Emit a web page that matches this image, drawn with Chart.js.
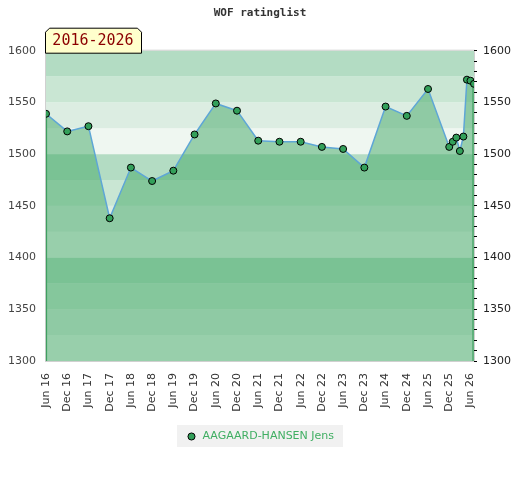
<!DOCTYPE html>
<html>
<head>
<meta charset="utf-8">
<script src="https://cdn.jsdelivr.net/npm/chart.js@4.4.1/dist/chart.umd.min.js"></script>
<style>
	html, body { margin: 0; padding: 0; background: #fff; }
	#wrap { width: 520px; height: 480px; }
</style>
</head>
<body>
<div id="wrap"><canvas id="mycanvas"></canvas></div>
<script>
// data
var chartTitle = "WOF ratinglist";
var periodLabel = "2016-2026";
var playerName = "AAGAARD-HANSEN Jens";

var ratingDates = ["2016-06", "2016-12", "2017-06", "2017-12", "2018-06", "2018-12",
	"2019-06", "2019-12", "2020-06", "2020-12", "2021-06", "2021-12", "2022-06",
	"2022-12", "2023-06", "2023-12", "2024-06", "2024-12", "2025-06", "2025-12",
	"2026-01", "2026-02", "2026-03", "2026-04", "2026-05", "2026-06", "2026-07"];
var ratings = [1539, 1522, 1527, 1438, 1487, 1474,
	1484, 1519, 1549, 1542, 1513, 1512, 1512,
	1507, 1505, 1487, 1546, 1537, 1563, 1507,
	1512, 1516, 1503, 1517, 1572, 1571, 1568];

var tickDates = ["2016-06", "2016-12", "2017-06", "2017-12", "2018-06", "2018-12",
	"2019-06", "2019-12", "2020-06", "2020-12", "2021-06", "2021-12", "2022-06",
	"2022-12", "2023-06", "2023-12", "2024-06", "2024-12", "2025-06", "2025-12", "2026-06"];
var tickLabels = ["Jun 16", "Dec 16", "Jun 17", "Dec 17", "Jun 18", "Dec 18",
	"Jun 19", "Dec 19", "Jun 20", "Dec 20", "Jun 21", "Dec 21", "Jun 22",
	"Dec 22", "Jun 23", "Dec 23", "Jun 24", "Dec 24", "Jun 25", "Dec 25", "Jun 26"];

var yMin = 1300, yMax = 1600;

// months since the first date
function monthIndex(d) {
	var p = d.split("-");
	return (parseInt(p[0], 10) - 2016) * 12 + (parseInt(p[1], 10) - 6);
}

var points = [];
for (var i in ratings) {
	points.push({ x: monthIndex(ratingDates[i]), y: ratings[i] });
}
var tickValues = tickDates.map(monthIndex);

var bandColors = ["#eff7f1", "#dcede2", "#c9e6d3", "#b3dcc3"];
var pointGreen = "#33a05a";

var decorPlugin = {
	id: "decor",
	beforeDraw: function(chart) {
		var ctx = chart.ctx, a = chart.chartArea, y = chart.scales.y;
		ctx.save();
		// background bands every 25 points
		for (var v = yMin, k = 0; v < yMax; v += 25, k++) {
			var top = y.getPixelForValue(v + 25), bot = y.getPixelForValue(v);
			ctx.fillStyle = bandColors[k % 4];
			ctx.fillRect(a.left, top, a.right - a.left, bot - top);
		}
		// grey frame
		ctx.strokeStyle = "#d0d0d0";
		ctx.lineWidth = 1;
		ctx.strokeRect(a.left - 0.5, a.top - 0.5, a.right - a.left + 1, a.bottom - a.top + 1);
		// legend background
		var hb = chart.legend && chart.legend.legendHitBoxes && chart.legend.legendHitBoxes[0];
		if (hb) {
			ctx.fillStyle = "#f1f1f1";
			ctx.fillRect(hb.left - 9, hb.top - 6, hb.width + 18, hb.height + 11);
		}
		ctx.restore();
	},
	beforeDatasetDraw: function(chart) {
		// vertical edges of the filled area
		var ctx = chart.ctx, a = chart.chartArea, meta = chart.getDatasetMeta(0);
		var first = meta.data[0], last = meta.data[meta.data.length - 1];
		ctx.save();
		ctx.strokeStyle = "#3f9f60";
		ctx.lineWidth = 1.2;
		ctx.beginPath();
		ctx.moveTo(first.x + 0.5, first.y);
		ctx.lineTo(first.x + 0.5, a.bottom);
		ctx.moveTo(Math.min(last.x, a.right - 1), last.y);
		ctx.lineTo(Math.min(last.x, a.right - 1), a.bottom);
		ctx.stroke();
		ctx.restore();
	},
	afterDraw: function(chart) {
		// period tag
		var ctx = chart.ctx, a = chart.chartArea;
		var l = a.left - 1, r = a.left + 95, t = a.top - 23, b = a.top + 2, c = 4;
		ctx.save();
		ctx.beginPath();
		ctx.moveTo(l + 0.5, b + 0.5);
		ctx.lineTo(l + 0.5, t + c + 0.5);
		ctx.lineTo(l + c + 0.5, t + 0.5);
		ctx.lineTo(r - c + 0.5, t + 0.5);
		ctx.lineTo(r + 0.5, t + c + 0.5);
		ctx.lineTo(r + 0.5, b + 0.5);
		ctx.closePath();
		ctx.fillStyle = "#ffffcc";
		ctx.fill();
		ctx.strokeStyle = "#000";
		ctx.lineWidth = 1;
		ctx.stroke();
		ctx.fillStyle = "#8b0000";
		ctx.font = "15px 'DejaVu Sans Mono'";
		ctx.textAlign = "center";
		ctx.textBaseline = "middle";
		ctx.fillText(periodLabel, (l + r) / 2, (t + b) / 2 + 1);
		ctx.restore();
	}
};

Chart.defaults.font.family = "'DejaVu Sans', sans-serif";
Chart.defaults.font.size = 11;

var ctx = document.getElementById("mycanvas");

var LineGraph = new Chart(ctx, {
	type: "line",
	data: {
		datasets: [{
			label: playerName,
			data: points,
			fill: "start",
			lineTension: 0,
			borderColor: "#5ea6d6",
			borderWidth: 1.5,
			backgroundColor: "rgba(66, 168, 102, 0.5)",
			pointRadius: 3.5,
			pointBorderWidth: 1,
			pointBackgroundColor: pointGreen,
			pointBorderColor: "#000"
		}]
	},
	options: {
		responsive: true,
		maintainAspectRatio: false,
		animation: false,
		layout: { padding: { left: 0, right: 0, top: 2, bottom: 28 } },
		plugins: {
			title: {
				display: true,
				text: chartTitle,
				color: "#333",
				font: { family: "'DejaVu Sans Mono', monospace", size: 11, weight: "bold" },
				padding: { top: 5, bottom: 30.5 }
			},
			legend: {
				position: "bottom",
				labels: {
					color: "#3fae62",
					font: { size: 11 },
					usePointStyle: true,
					boxWidth: 11,
					boxHeight: 5,
					padding: 10,
					generateLabels: function(chart) {
						var items = Chart.defaults.plugins.legend.labels.generateLabels(chart);
						items.forEach(function(it) {
							it.fillStyle = pointGreen;
							it.strokeStyle = "#000";
							it.lineWidth = 1;
							it.pointStyle = "circle";
						});
						return items;
					}
				}
			},
			tooltip: { enabled: false }
		},
		scales: {
			x: {
				type: "linear",
				min: tickValues[0],
				max: points[points.length - 1].x,
				afterBuildTicks: function(scale) {
					scale.ticks = tickValues.map(function(v) { return { value: v }; });
				},
				afterFit: function(scale) { scale.height = 60; },
				grid: { display: false, drawTicks: false },
				border: { display: false },
				ticks: {
					autoSkip: false,
					minRotation: 90,
					maxRotation: 90,
					color: "#333",
					padding: 12,
					callback: function(value) {
						var idx = tickValues.indexOf(value);
						return idx >= 0 ? tickLabels[idx] : "";
					}
				}
			},
			y: {
				position: "left",
				min: yMin,
				max: yMax,
				afterFit: function(scale) { scale.width = 46; },
				grid: { display: false, drawTicks: false },
				border: { display: false },
				ticks: { stepSize: 50, color: "#444", padding: 10, callback: function(v) { return String(v); } }
			},
			y2: {
				position: "right",
				min: yMin,
				max: yMax,
				afterFit: function(scale) { scale.width = 46; },
				grid: { drawOnChartArea: false, drawTicks: true, tickLength: 3, color: "#000" },
				border: { display: false },
				ticks: {
					stepSize: 10,
					autoSkip: false,
					color: "#222",
					padding: 6,
					callback: function(v) { return v % 50 === 0 ? String(v) : ""; }
				}
			}
		}
	},
	plugins: [decorPlugin]
});
</script>
</body>
</html>
